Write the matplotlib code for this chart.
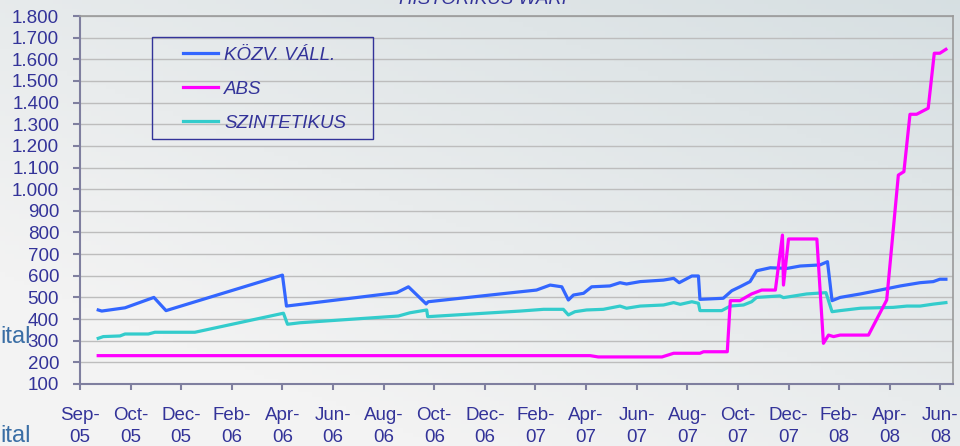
import numpy as np
import matplotlib

matplotlib.use("Agg")
import matplotlib.pyplot as plt
from matplotlib.patches import Rectangle

# x positions are in tick units (0 = Sep-05, 1 = Oct-05, 2 = Dec-05, ...)
tick_labels = ["Sep-\n05", "Oct-\n05", "Dec-\n05", "Feb-\n06", "Apr-\n06", "Jun-\n06",
               "Aug-\n06", "Oct-\n06", "Dec-\n06", "Feb-\n07", "Apr-\n07", "Jun-\n07",
               "Aug-\n07", "Oct-\n07", "Dec-\n07", "Feb-\n08", "Apr-\n08", "Jun-\n08"]

kozv_x = [0.36, 0.43, 0.89, 1.46, 1.70, 4.00, 4.08, 6.26, 6.49, 6.84, 6.88, 8.70, 9.02, 9.29,
          9.52, 9.65, 9.75, 9.95, 10.11, 10.47, 10.67, 10.80, 11.07, 11.53, 11.73, 11.84, 12.09,
          12.22, 12.25, 12.71, 12.88, 13.04, 13.24, 13.37, 13.64, 13.97, 14.23, 14.62, 14.77,
          14.86, 15.02, 15.42, 15.81, 16.21, 16.60, 16.86, 16.99, 17.11]
kozv_v = [442, 437, 452, 500, 439, 603, 460, 522, 549, 470, 480, 526, 534, 557,
          549, 488, 511, 519, 549, 553, 568, 562, 573, 580, 588, 568, 599,
          599, 491, 496, 531, 549, 573, 623, 637, 634, 645, 650, 665,
          485, 500, 516, 534, 553, 568, 573, 584, 584]

abs_x = [0.36, 10.08, 10.24, 11.50, 11.73, 12.25, 12.32, 12.79, 12.85, 13.04, 13.27, 13.47,
         13.74, 13.88, 13.90, 14.00, 14.56, 14.69, 14.79, 14.89, 15.02, 15.58, 15.94, 16.17,
         16.28, 16.40, 16.53, 16.76, 16.88, 16.99, 17.11]
abs_v = [231, 231, 225, 225, 242, 242, 249, 249, 485, 485, 516, 534,
         534, 788, 557, 770, 770, 288, 326, 319, 326, 326, 488, 1065,
         1081, 1346, 1346, 1374, 1628, 1628, 1646]

szint_x = [0.36, 0.46, 0.79, 0.89, 1.35, 1.48, 2.27, 4.02, 4.10, 4.35, 6.29, 6.52, 6.85, 6.87,
           8.70, 9.16, 9.55, 9.65, 9.78, 10.01, 10.34, 10.67, 10.80, 11.07, 11.53, 11.73, 11.86,
           12.09, 12.22, 12.25, 12.68, 12.85, 13.11, 13.27, 13.37, 13.83, 13.90, 14.36, 14.74,
           14.86, 15.02, 15.42, 16.07, 16.34, 16.60, 16.86, 17.11]
szint_v = [311, 319, 322, 331, 331, 339, 339, 427, 376, 383, 414, 429, 442, 411,
           437, 445, 445, 419, 434, 442, 445, 460, 450, 460, 465, 476, 468,
           480, 473, 439, 439, 460, 465, 480, 500, 507, 499, 516, 522,
           434, 439, 450, 454, 460, 460, 469, 476]

NAVY = "#333399"
FS = 13.5
plt.rcParams["font.family"] = ["Liberation Sans", "DejaVu Sans"]

fig = plt.figure(figsize=(9.6, 4.46), dpi=100)

# background gradient
bg = fig.add_axes([0, 0, 1, 1], zorder=-10)
gx, gy = np.meshgrid(np.linspace(0, 1, 200), np.linspace(1, 0, 100))
t = np.clip(0.55 * gx + 0.65 * gy - 0.25, 0, 1)
c0 = np.array([0xF3, 0xF3, 0xF3]) / 255
c1 = np.array([0xD5, 0xDE, 0xE1]) / 255
img = c0 + (c1 - c0) * t[..., None]
bg.imshow(img, aspect="auto", extent=(0, 1, 0, 1))
bg.axis("off")

ax = fig.add_axes([80 / 960, 1 - 384 / 446, 873 / 960, 368 / 446])
ax.set_facecolor("none")

ax.plot(kozv_x, kozv_v, color="#3366FF", lw=2.3, label="KÖZV. VÁLL.", zorder=3)
ax.plot(abs_x, abs_v, color="#FF00FF", lw=2.3, label="ABS", zorder=4)
ax.plot(szint_x, szint_v, color="#33CCCC", lw=2.3, label="SZINTETIKUS", zorder=3)

ax.set_xlim(0, 17.25)
ax.set_ylim(100, 1800)
yt = np.arange(100, 1801, 100)
ax.set_yticks(yt)
ax.set_yticklabels([f"{v:,}".replace(",", ".") for v in yt])
ax.set_xticks(np.arange(len(tick_labels)))
ax.set_xticklabels(tick_labels, linespacing=1.4)
for yv in yt[1:]:
    ax.axhline(yv, color="#BDBDBD", lw=1, zorder=1)

ax.tick_params(axis="y", colors="#7F7F9F", labelcolor=NAVY, labelsize=FS, length=5, width=1.5, pad=10)
ax.tick_params(axis="x", colors="#7F7F9F", labelcolor=NAVY, labelsize=FS, length=4.5, width=1.5, pad=12)
for s in ("left", "bottom"):
    ax.spines[s].set_color("#7F7F9F")
    ax.spines[s].set_linewidth(1.5)
for s in ("top", "right"):
    ax.spines[s].set_color("#9A9A9A")
    ax.spines[s].set_linewidth(1.2)

leg = ax.legend(loc="upper left", bbox_to_anchor=(174 / 960, 1 - 37 / 446),
                bbox_transform=fig.transFigure, frameon=False, borderpad=0,
                handlelength=1.85, handletextpad=0.32, labelspacing=0.9,
                prop={"size": FS, "style": "italic"})
for txt in leg.get_texts():
    txt.set_color(NAVY)
fig.patches.append(Rectangle((152 / 960, 1 - 139 / 446), 221 / 960, 102 / 446,
                             transform=fig.transFigure, fill=False, edgecolor=NAVY, lw=1))

fig.text(486 / 960, 1 - 4 / 446, "HISTORIKUS WARF", ha="center", va="baseline",
         color=NAVY, fontsize=FS, style="italic")
fig.text(0, 1 - 337 / 446, "ital", ha="left", va="center", color="#3A6EA5", fontsize=17)
fig.text(0, 1 - 436 / 446, "ital", ha="left", va="center", color="#3A6EA5", fontsize=17)

fig.savefig("out.png", dpi=100)
